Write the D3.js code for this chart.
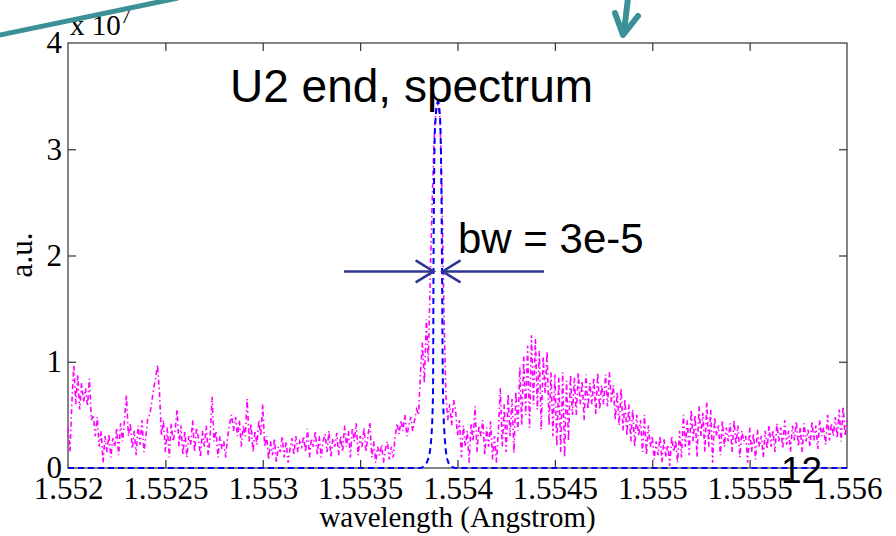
<!DOCTYPE html>
<html>
<head>
<meta charset="utf-8">
<script src="https://cdn.jsdelivr.net/npm/d3@7"></script>
<style>
  html, body { margin: 0; padding: 0; background: #fff; }
  svg { display: block; }
</style>
</head>
<body>
<svg id="chart" width="896" height="536"></svg>
<script>
// ---------------- data ----------------
const xTickValues = [1.552, 1.5525, 1.553, 1.5535, 1.554, 1.5545, 1.555, 1.5555, 1.556];
const xTickLabels = ["1.552", "1.5525", "1.553", "1.5535", "1.554", "1.5545", "1.555", "1.5555", "1.556"];
const yTickValues = [0, 1, 2, 3, 4];
const yTickLabels = ["0", "1", "2", "3", "4"];

// magenta trace (units of 1e7), sampled every 1e-5 Angstrom from 1.552
const magentaStart = 1.552;
const magentaStep = 0.00001;
const magentaValues = [
  0.38,0.15,0.62,0.97,0.6,0.88,0.55,0.8,0.62,0.75,0.58,0.84,0.45,0.5,0.3,0.48,0.2,0.35,0.05,0.3,
  0.15,0.32,0.1,0.28,0.2,0.38,0.12,0.42,0.25,0.45,0.69,0.3,0.42,0.18,0.35,0.12,0.4,0.22,0.45,0.15,
  0.3,0.48,0.5,0.62,0.75,0.85,0.97,0.7,0.3,0.45,0.15,0.38,0.1,0.42,0.25,0.35,0.55,0.2,0.4,0.12,
  0.35,0.1,0.3,0.22,0.45,0.15,0.38,0.28,0.1,0.35,0.2,0.4,0.12,0.3,0.67,0.25,0.35,0.1,0.3,0.18,
  0.25,0.1,0.3,0.42,0.5,0.35,0.48,0.3,0.45,0.2,0.4,0.3,0.65,0.25,0.42,0.15,0.35,0.22,0.45,0.3,
  0.6,0.2,0.3,0.08,0.25,0.12,0.28,0.05,0.2,0.15,0.3,0.1,0.25,0.05,0.18,0.28,0.12,0.3,0.15,0.25,
  0.2,0.3,0.15,0.37,0.1,0.28,0.2,0.35,0.12,0.3,0.1,0.25,0.32,0.15,0.35,0.1,0.28,0.2,0.33,0.12,
  0.3,0.15,0.4,0.2,0.35,0.1,0.38,0.25,0.42,0.12,0.3,0.2,0.38,0.15,0.3,0.43,0.1,0.25,0.05,0.2,
  0.12,0.22,0.05,0.18,0.25,0.08,0.2,0.1,0.3,0.42,0.32,0.45,0.35,0.5,0.3,0.4,0.48,0.35,0.45,0.55,
  0.5,0.9,1.18,0.8,1.4,1.0,1.8,2.5,3.1,3.4,3.42,3.3,2.6,1.5,0.7,0.45,0.6,0.4,0.64,0.55,
  0.3,0.45,0.1,0.4,0.2,0.35,0.05,0.42,0.25,0.58,0.15,0.4,0.3,0.45,0.12,0.38,0.2,0.44,0.08,0.3,
  0.05,0.36,0.75,0.2,0.6,0.15,0.7,0.3,0.65,0.14,0.72,0.35,0.95,0.4,1.05,0.5,1.15,0.38,1.25,0.6,
  1.22,0.55,1.1,0.36,1.05,0.7,1.1,0.4,0.9,0.3,0.88,0.2,0.85,0.15,0.9,0.1,0.82,0.25,0.88,0.5,
  0.85,0.5,0.9,0.6,0.82,0.45,0.88,0.55,0.8,0.6,0.85,0.5,0.9,0.55,0.78,0.6,0.88,0.58,0.9,0.62,
  0.78,0.45,0.72,0.4,0.75,0.35,0.65,0.3,0.6,0.25,0.55,0.2,0.5,0.3,0.45,0.15,0.5,0.12,0.4,0.2,
  0.3,0.08,0.25,0.12,0.3,0.05,0.28,0.1,0.22,0.02,0.3,0.15,0.26,0.05,0.35,0.1,0.5,0.2,0.45,0.12,
  0.55,0.25,0.5,0.1,0.58,0.3,0.52,0.15,0.62,0.2,0.55,0.05,0.48,0.3,0.4,0.12,0.45,0.2,0.38,0.25,
  0.42,0.15,0.45,0.22,0.4,0.1,0.35,0.25,0.3,0.05,0.38,0.15,0.33,0.08,0.36,0.2,0.3,0.1,0.35,0.18,
  0.4,0.2,0.36,0.15,0.42,0.25,0.38,0.18,0.45,0.22,0.35,0.15,0.4,0.26,0.44,0.2,0.38,0.15,0.42,0.25,
  0.36,0.2,0.44,0.26,0.4,0.18,0.45,0.3,0.38,0.22,0.5,0.26,0.42,0.3,0.48,0.28,0.55,0.25,0.58,0.3,
  0.45
];

// blue (narrow-band) spectrum
const blueWavelengths = [1.552, 1.5538075, 1.553828, 1.5538486, 1.553864, 1.5538743, 1.5538768, 1.5538845,
  1.5539, 1.5539102, 1.553918, 1.5539205, 1.5539256, 1.5539359, 1.5539513, 1.5539718, 1.5539924, 1.556];
const blueValues = [0, 0, 0.02, 0.08, 0.25, 0.7, 1.9, 3.2, 3.45, 3.3, 2.5, 1.9, 0.7, 0.25, 0.06, 0.01, 0, 0];

// annotation texts
const titleText = "U2 end, spectrum";
const bwText = "bw = 3e-5";
const pageNumber = "12";
const xLabel = "wavelength (Angstrom)";
const yLabel = "a.u.";
const bwLevel = 1.85;               // height of the bandwidth arrows (1e7 units)
const bwLeftEdge = 1.5538774;       // wavelength where left arrow tip points
const bwRightEdge = 1.5539230;      // wavelength where right arrow tip points

// ---------------- drawing ----------------
const svg = d3.select("#chart");
const mL = 68, mR = 847, mT = 43, mB = 468;

const x = d3.scaleLinear().domain([1.552, 1.556]).range([mL, mR]);
const y = d3.scaleLinear().domain([0, 4]).range([mB, mT]);

const axisColor = "#333";
const serif = "'Liberation Serif', 'Times New Roman', serif";
const sans = "'Liberation Sans', Arial, sans-serif";

// axes (ticks inward)
const gx = svg.append("g").attr("transform", `translate(0,${mB})`)
  .call(d3.axisBottom(x).tickValues(xTickValues).tickFormat((d, i) => xTickLabels[i])
    .tickSizeInner(-8).tickSizeOuter(0).tickPadding(9));
const gxTop = svg.append("g").attr("transform", `translate(0,${mT})`)
  .call(d3.axisTop(x).tickValues(xTickValues).tickFormat("").tickSizeInner(-8).tickSizeOuter(0));
const gy = svg.append("g").attr("transform", `translate(${mL},0)`)
  .call(d3.axisLeft(y).tickValues(yTickValues).tickFormat((d, i) => yTickLabels[i])
    .tickSizeInner(-8).tickSizeOuter(0).tickPadding(6));
const gyR = svg.append("g").attr("transform", `translate(${mR},0)`)
  .call(d3.axisRight(y).tickValues(yTickValues).tickFormat("").tickSizeInner(-8).tickSizeOuter(0));

[gx, gxTop, gy, gyR].forEach(g => {
  g.select(".domain").remove();
  g.selectAll(".tick line").attr("stroke", axisColor).attr("stroke-width", 1.2);
  g.selectAll(".tick text").attr("fill", "#000").attr("font-family", serif).attr("font-size", 31);
});
[gx, gxTop].forEach(g => g.selectAll(".tick line").filter((d, i) => i === 0 || i === xTickValues.length - 1).remove());
[gy, gyR].forEach(g => g.selectAll(".tick line").filter((d, i) => i === 0 || i === yTickValues.length - 1).remove());

// box
svg.append("rect").attr("x", mL).attr("y", mT).attr("width", mR - mL).attr("height", mB - mT)
  .attr("fill", "none").attr("stroke", axisColor).attr("stroke-width", 1.2);

// magenta trace
const magentaData = magentaValues.map((v, i) => [magentaStart + i * magentaStep, v]);
const line = d3.line().x(d => x(d[0])).y(d => y(d[1]));
svg.append("path").datum(magentaData).attr("d", line)
  .attr("fill", "none").attr("stroke", "#ff00ff").attr("stroke-width", 1.6)
  .attr("stroke-dasharray", "5,3,1.5,3");

// blue trace
const blueData = blueWavelengths.map((w, i) => [w, blueValues[i]]);
const blueLine = d3.line().x(d => x(d[0])).y(d => y(d[1])).curve(d3.curveMonotoneX);
svg.append("path").datum(blueData).attr("d", blueLine)
  .attr("fill", "none").attr("stroke", "#0000ff").attr("stroke-width", 2)
  .attr("stroke-dasharray", "6,4");

// x10^7 label
const expLabel = svg.append("text").attr("x", mL + 2).attr("y", 35)
  .attr("font-family", serif).attr("font-size", 29).attr("fill", "#000");
expLabel.append("tspan").text("x 10");
expLabel.append("tspan").attr("font-size", 20).attr("dy", -12).text("7");

// axis titles
svg.append("text").attr("x", (mL + mR) / 2).attr("y", 527).attr("text-anchor", "middle")
  .attr("font-family", serif).attr("font-size", 29).attr("fill", "#000").text(xLabel);
svg.append("text").attr("transform", `translate(32,255) rotate(-90)`).attr("text-anchor", "middle")
  .attr("font-family", serif).attr("font-size", 31).attr("fill", "#000").text(yLabel);

// title and annotations
svg.append("text").attr("x", 230).attr("y", 102).attr("font-family", sans).attr("font-size", 46)
  .attr("fill", "#000").text(titleText);
svg.append("text").attr("x", 458).attr("y", 253).attr("font-family", sans).attr("font-size", 42)
  .attr("fill", "#000").text(bwText);
svg.append("text").attr("x", 781).attr("y", 483).attr("font-family", sans).attr("font-size", 37)
  .attr("fill", "#000").text(pageNumber);

// bandwidth arrows
const navy = "#2f3590";
const ay = y(bwLevel);
const lt = x(bwLeftEdge), rt = x(bwRightEdge);
svg.append("line").attr("x1", 344).attr("x2", lt).attr("y1", ay).attr("y2", ay)
  .attr("stroke", navy).attr("stroke-width", 2.5);
svg.append("polyline").attr("points", `${lt - 18},${ay - 11} ${lt},${ay} ${lt - 18},${ay + 11}`)
  .attr("fill", "none").attr("stroke", navy).attr("stroke-width", 2.5);
svg.append("line").attr("x1", rt).attr("x2", 544).attr("y1", ay).attr("y2", ay)
  .attr("stroke", navy).attr("stroke-width", 2.5);
svg.append("polyline").attr("points", `${rt + 18},${ay - 11} ${rt},${ay} ${rt + 18},${ay + 11}`)
  .attr("fill", "none").attr("stroke", navy).attr("stroke-width", 2.5);

// teal slide decorations
const teal = "#3b9196";
svg.append("line").attr("x1", -5).attr("y1", 36).attr("x2", 178).attr("y2", -2)
  .attr("stroke", teal).attr("stroke-width", 5);
svg.append("line").attr("x1", 628).attr("y1", -2).attr("x2", 624).attr("y2", 32)
  .attr("stroke", teal).attr("stroke-width", 6).attr("stroke-linecap", "round");
svg.append("polyline").attr("points", "615,13 623,35 638,16")
  .attr("fill", "none").attr("stroke", teal).attr("stroke-width", 6)
  .attr("stroke-linecap", "round").attr("stroke-linejoin", "round");
</script>
</body>
</html>
